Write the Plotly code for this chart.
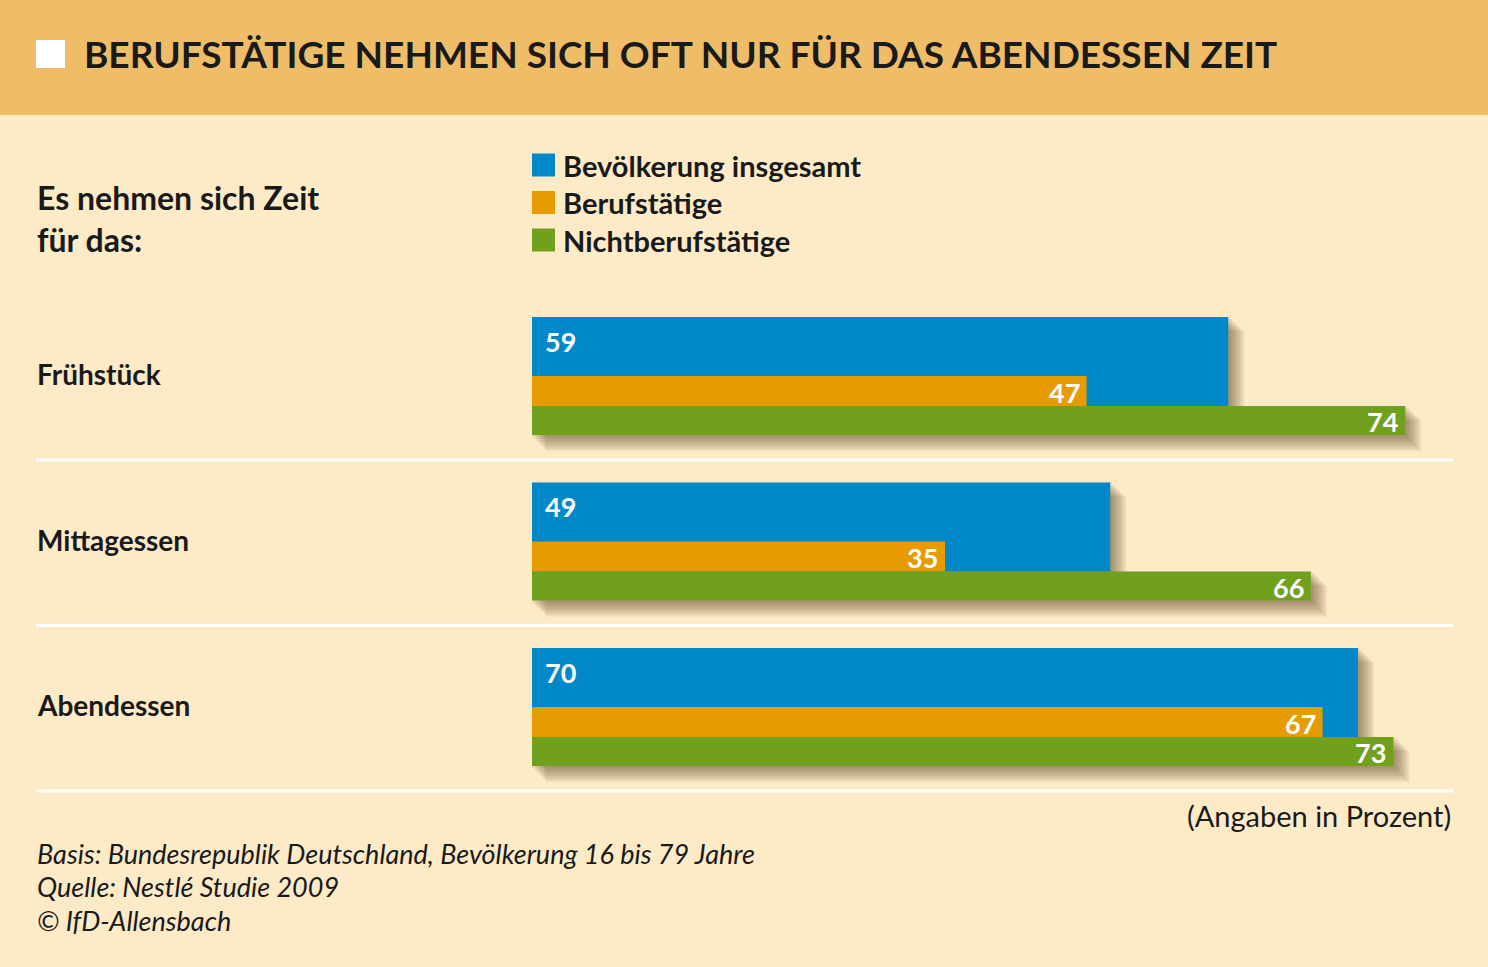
import plotly.graph_objects as go

# ---------------- data ----------------
categories = ["Frühstück", "Mittagessen", "Abendessen"]
series_names = ["Bevölkerung insgesamt", "Berufstätige", "Nichtberufstätige"]
gesamt = [59, 49, 70]
berufstaetige = [47, 35, 67]
nichtberufstaetige = [74, 66, 73]

title = "BERUFSTÄTIGE NEHMEN SICH OFT NUR FÜR DAS ABENDESSEN ZEIT"
subtitle = "Es nehmen sich Zeit<br>für das:"
unit_note = "(Angaben in Prozent)"
footer_lines = ["Basis: Bundesrepublik Deutschland, Bevölkerung 16 bis 79 Jahre",
                "Quelle: Nestlé Studie 2009",
                "© IfD-Allensbach"]

# ---------------- style ----------------
W, H = 1488, 967
BG = "#FDEAC7"
HEADER = "#EFBD67"
BLUE = "#0088C8"
ORANGE = "#E69B00"
GREEN = "#71A01F"
TXT = "#1A1A1A"
FONT = "Lato"

X0 = 532          # px of value 0
PXU = 11.8        # px per percent
XMAX = (W - X0) / PXU

G0, GSTEP = 317, 165.5
BLUE_H, OR_H, GR_H = 89, 30, 29


def px(x):
    return x / W


def py(y):
    return 1 - y / H


fig = go.Figure()

tops = [G0 + i * GSTEP for i in range(len(categories))]

# shadows (computed from the data values)
shapes = []
for i, t in enumerate(tops):
    pieces = [(max(gesamt[i], berufstaetige[i]), t, t + BLUE_H),
              (nichtberufstaetige[i], t + BLUE_H, t + BLUE_H + GR_H)]
    for k in range(8):
        d = 2 + k * 2
        for val, y0, y1 in pieces:
            shapes.append(dict(type="rect", xref="x", yref="y", layer="below",
                               x0=(d - 2) / PXU, x1=val + d / PXU, y0=y0 + d - 2, y1=y1 + d,
                               fillcolor="rgba(90,70,40,0.085)", line=dict(width=0)))

# bars
fig.add_trace(go.Bar(y=[t + BLUE_H / 2 for t in tops], x=gesamt, width=BLUE_H,
                     orientation="h", marker=dict(color=BLUE, line=dict(width=0)),
                     name=series_names[0], showlegend=False))
fig.add_trace(go.Bar(y=[t + BLUE_H - OR_H / 2 for t in tops], x=berufstaetige, width=OR_H,
                     orientation="h", marker=dict(color=ORANGE, line=dict(width=0)),
                     name=series_names[1], showlegend=False))
fig.add_trace(go.Bar(y=[t + BLUE_H + GR_H / 2 for t in tops], x=nichtberufstaetige, width=GR_H,
                     orientation="h", marker=dict(color=GREEN, line=dict(width=0)),
                     name=series_names[2], showlegend=False))

annotations = []
# value labels
for i, t in enumerate(tops):
    annotations.append(dict(xref="x", yref="y", x=0, y=t + 24, xshift=11,
                            text=f"<b>{gesamt[i]}</b>", showarrow=False, xanchor="left",
                            yanchor="middle", font=dict(family=FONT, size=27, color="white")))
    annotations.append(dict(xref="x", yref="y", x=berufstaetige[i], y=t + BLUE_H - OR_H / 2 + 1,
                            xshift=-5, text=f"<b>{berufstaetige[i]}</b>", showarrow=False,
                            xanchor="right", yanchor="middle",
                            font=dict(family=FONT, size=27, color="white")))
    annotations.append(dict(xref="x", yref="y", x=nichtberufstaetige[i], y=t + BLUE_H + GR_H / 2 + 1,
                            xshift=-5, text=f"<b>{nichtberufstaetige[i]}</b>", showarrow=False,
                            xanchor="right", yanchor="middle",
                            font=dict(family=FONT, size=27, color="white")))
    # category label
    annotations.append(dict(xref="paper", yref="y", x=px(35), y=t + 57,
                            text=f"<b>{categories[i]}</b>", showarrow=False, xanchor="left",
                            yanchor="middle", font=dict(family=FONT, size=28, color=TXT)))
    # separator line
    shapes.append(dict(type="line", xref="paper", yref="y", x0=px(36), x1=px(1453),
                       y0=t + 143, y1=t + 143, line=dict(color="white", width=3)))

# header band
shapes.append(dict(type="rect", xref="paper", yref="paper", x0=0, x1=1, y0=py(115), y1=1,
                   fillcolor=HEADER, line=dict(width=0), layer="below"))
shapes.append(dict(type="rect", xref="paper", yref="paper", x0=px(36), x1=px(65),
                   y0=py(68), y1=py(40), fillcolor="white", line=dict(width=0)))
annotations.append(dict(xref="paper", yref="paper", x=px(82), y=py(54), text=f"<b>{title}</b>",
                        showarrow=False, xanchor="left", yanchor="middle",
                        font=dict(family=FONT, size=37, color=TXT)))

# subtitle
annotations.append(dict(xref="paper", yref="paper", x=px(35), y=py(219), text=f"<b>{subtitle}</b>",
                        showarrow=False, xanchor="left", yanchor="middle", align="left",
                        font=dict(family=FONT, size=32, color=TXT)))

# legend
leg_colors = [BLUE, ORANGE, GREEN]
for k, (nm, col) in enumerate(zip(series_names, leg_colors)):
    yc = 165 + k * 37.5
    shapes.append(dict(type="rect", xref="paper", yref="paper", x0=px(532), x1=px(555),
                       y0=py(yc + 11.5), y1=py(yc - 11.5), fillcolor=col, line=dict(width=0)))
    annotations.append(dict(xref="paper", yref="paper", x=px(561), y=py(yc), text=f"<b>{nm}</b>",
                            showarrow=False, xanchor="left", yanchor="middle",
                            font=dict(family=FONT, size=29, color=TXT)))

# unit note
annotations.append(dict(xref="paper", yref="paper", x=px(1453), y=py(815), text=unit_note,
                        showarrow=False, xanchor="right", yanchor="middle",
                        font=dict(family=FONT, size=29, color=TXT)))

# footer
for k, line in enumerate(footer_lines):
    annotations.append(dict(xref="paper", yref="paper", x=px(35), y=py(853 + k * 33.5),
                            text=f"<i>{line}</i>", showarrow=False, xanchor="left", yanchor="middle",
                            font=dict(family=FONT, size=27, color=TXT)))

fig.update_layout(
    width=W, height=H,
    margin=dict(l=0, r=0, t=0, b=0),
    paper_bgcolor=BG, plot_bgcolor="rgba(0,0,0,0)",
    barmode="overlay",
    xaxis=dict(domain=[px(X0), 1], range=[0, XMAX], visible=False, fixedrange=True),
    yaxis=dict(domain=[0, 1], range=[H, 0], visible=False, fixedrange=True),
    shapes=shapes, annotations=annotations,
    showlegend=False,
)

fig.write_html("out.html", config={"displayModeBar": False},
               post_script="document.body.style.margin='0';document.body.style.overflow='hidden';")
